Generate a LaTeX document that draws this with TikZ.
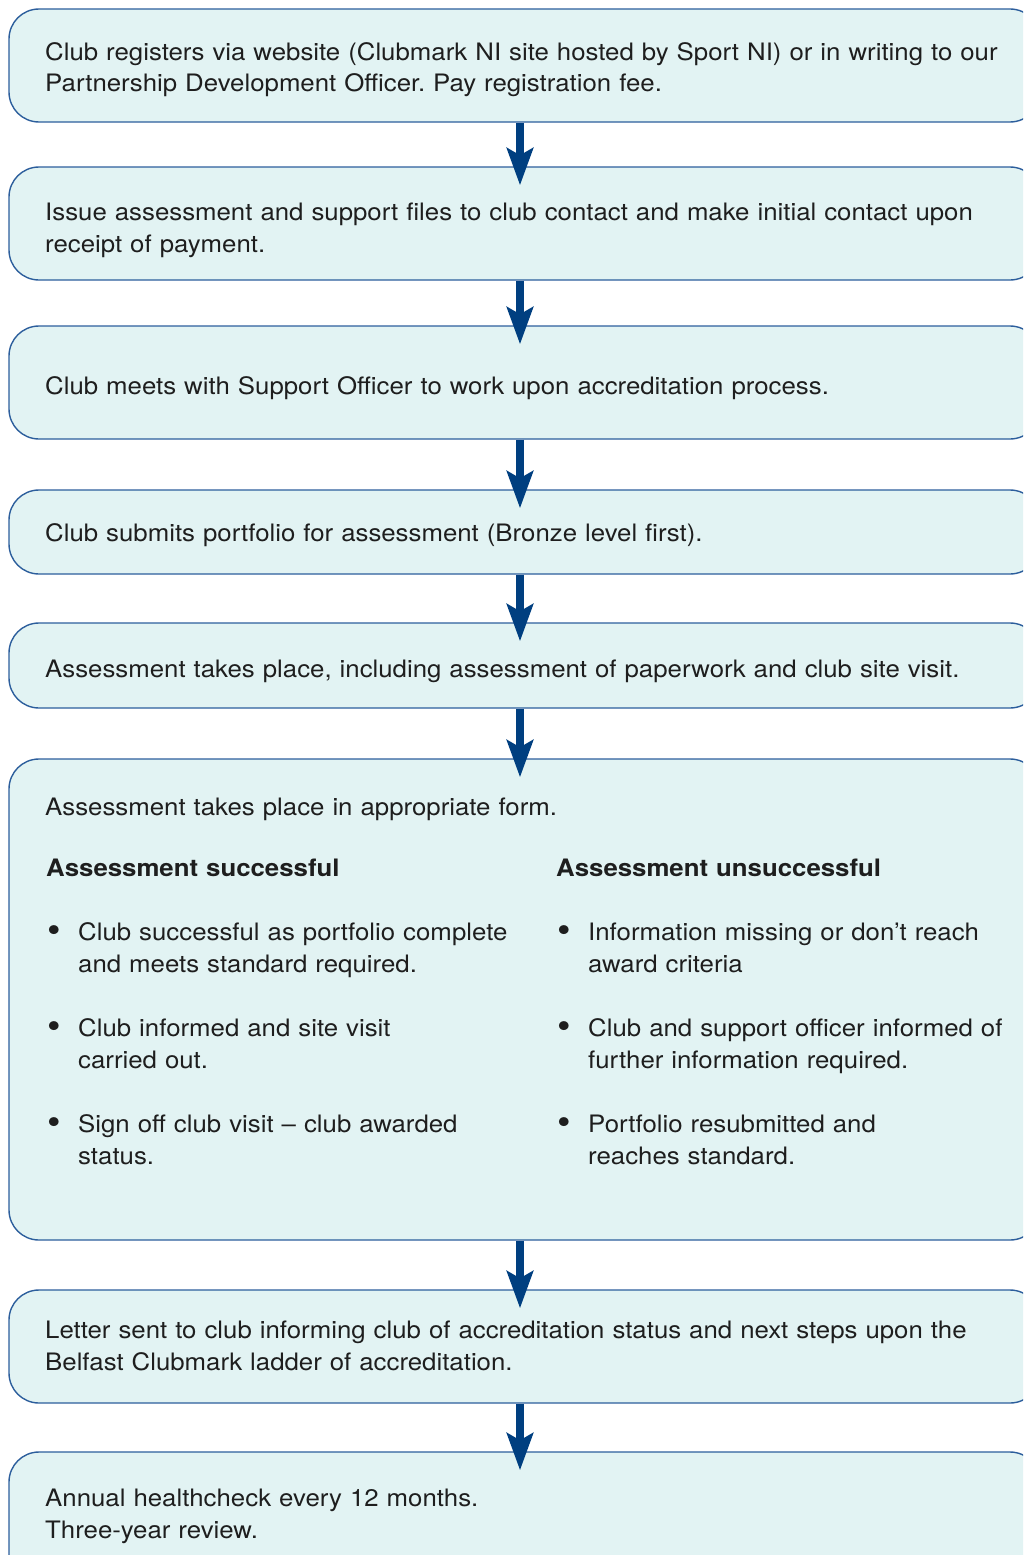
\documentclass[tikz,border=0pt]{standalone}
\usepackage{fontspec}
\setmainfont[FakeStretch=1.075]{TeX Gyre Heros}
\usetikzlibrary{arrows.meta}
\definecolor{boxfill}{RGB}{226,243,243}
\definecolor{boxline}{RGB}{44,94,156}
\definecolor{arrowblue}{RGB}{0,63,128}
\definecolor{ink}{RGB}{30,30,30}
\tikzset{
  stepbox/.style={draw=boxline, fill=boxfill, line width=1.4pt, rounded corners=30pt,
    minimum width=1031pt, inner sep=0pt},
  txt/.style={anchor=base west, inner sep=0pt, align=left, text width=1000pt,
    font=\fontsize{24}{32}\selectfont\frenchspacing, text=ink},
  coltxt/.style={txt, text width=450pt},
  head/.style={coltxt, font=\fontsize{24}{32}\selectfont\bfseries},
  flow/.style={draw=arrowblue, line width=8pt, shorten >=-19pt,
    -{Stealth[length=37pt,width=26pt,inset=7pt]}},
}
\newcommand{\bul}{\leavevmode\llap{\raisebox{-0.12em}{\scalebox{1.5}{\textbullet}}\hspace*{17pt}}}
\begin{document}
\begin{tikzpicture}[x=1pt,y=-1pt]
\useasboundingbox (0,0) rectangle (1023,1555);
\clip (0,0) rectangle (1023,1555);

% step boxes (they run past the right edge of the page)
\node[stepbox, minimum height=113pt] (b1) at (524.5,65.5) {};
\node[stepbox, minimum height=113pt] (b2) at (524.5,223.5) {};
\node[stepbox, minimum height=113pt] (b3) at (524.5,382.5) {};
\node[stepbox, minimum height=84pt]  (b4) at (524.5,532) {};
\node[stepbox, minimum height=85pt]  (b5) at (524.5,665.5) {};
\node[stepbox, minimum height=481pt] (b6) at (524.5,999.5) {};
\node[stepbox, minimum height=113pt] (b7) at (524.5,1346.5) {};
\node[stepbox, minimum height=140pt] (b8) at (524.5,1522) {};

% texts
\node[txt] (t1) at (45,60) {Club registers via website (Clubmark NI site hosted by Sport NI) or in writing to our\\Partnership Development Officer. Pay registration fee.};
\node[txt] (t2) at (45,220) {Issue assessment and support files to club contact and make initial contact upon\\receipt of payment.};
\node[txt] (t3) at (45,394) {Club meets with Support Officer to work upon accreditation process.};
\node[txt] (t4) at (45,541) {Club submits portfolio for assessment (Bronze level first).};
\node[txt] (t5) at (45,677) {Assessment takes place, including assessment of paperwork and club site visit.};
\node[txt] (t6) at (45,815) {Assessment takes place in appropriate form.};

\node[head] (h1) at (46,876) {Assessment successful};
\node[head] (h2) at (556,876) {Assessment unsuccessful};

\node[coltxt] (l1) at (78,940) {\bul Club successful as portfolio complete\\and meets standard required.};
\node[coltxt] (l2) at (78,1036) {\bul Club informed and site visit\\carried out.};
\node[coltxt] (l3) at (78,1132) {\bul Sign off club visit – club awarded\\status.};
\node[coltxt] (r1) at (588,940) {\bul Information missing or don’t reach\\award criteria};
\node[coltxt] (r2) at (588,1036) {\bul Club and support officer informed of\\further information required.};
\node[coltxt] (r3) at (588,1132) {\bul Portfolio resubmitted and\\reaches standard.};

\node[txt] (t7) at (45,1338) {Letter sent to club informing club of accreditation status and next steps upon the\\Belfast Clubmark ladder of accreditation.};
\node[txt] (t8) at (45,1506) {Annual healthcheck every 12 months.\\Three-year review.};

% connectors
\coordinate (ax) at (520,0);
\draw[flow] (b1.south -| ax) -- (b2.north -| ax);
\draw[flow] (b2.south -| ax) -- (b3.north -| ax);
\draw[flow] (b3.south -| ax) -- (b4.north -| ax);
\draw[flow] (b4.south -| ax) -- (b5.north -| ax);
\draw[flow] (b5.south -| ax) -- (b6.north -| ax);
\draw[flow] (b6.south -| ax) -- (b7.north -| ax);
\draw[flow] (b7.south -| ax) -- (b8.north -| ax);
\end{tikzpicture}
\end{document}
